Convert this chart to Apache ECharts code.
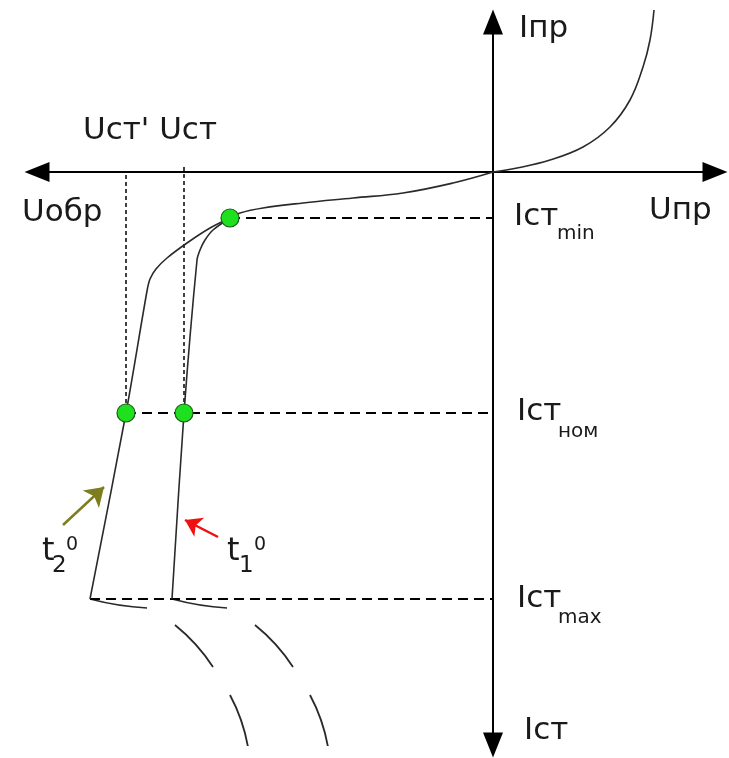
<!DOCTYPE html>
<html>
<head>
<meta charset="utf-8">
<script src="https://cdn.jsdelivr.net/npm/echarts@6/dist/echarts.min.js"></script>
<style>
html,body{margin:0;padding:0;background:#fff}
#main{width:729px;height:758px}
</style>
</head>
<body>
<div id="main"></div>
<script>
// вольт-амперная характеристика стабилитрона, условные единицы (начало координат = пересечение осей)
var uSt = -30.9;      // Uст
var uSt2 = -36.7;     // Uст'
var iMin = -4.6;      // Iст min
var iNom = -24.1;     // Iст ном
var iMax = -42.7;     // Iст max
var kneeX = -26.3;

var forwardCurve = [[0,0],[2.4,0.4],[5.7,1.2],[9,2.5],[11.7,4.5],[13.7,7.2],[15,10.5],[15.7,13.2],[16.1,16.2]];
var reverseCurve = [[0,0],[-4,-1.1],[-9,-2.1],[-14,-2.6],[-19,-3.1],[-23,-3.6],[-25.3,-4.1],[kneeX,iMin]];
var branchT2 = [[kneeX,iMin],[-28.3,-5.6],[-30.6,-7.1],[-32.6,-8.6],[-33.7,-9.7],[-34.3,-10.7],[-34.6,-11.9],[uSt2,iNom],[-40.3,iMax]];
var branchT1 = [[kneeX,iMin],[-28,-5.8],[-28.8,-6.8],[-29.3,-7.8],[-29.6,-8.8],[uSt,iNom],[-32.1,iMax]];
var tails = [
  [[-40.3,iMax],[-34.6,-43.6]],
  [[-32.1,iMax],[-26.6,-43.6]]
];
var arcs = [
  [[-31.8,-45.3],[-28,-49.5]],
  [[-23.8,-45.3],[-20,-49.5]],
  [[-26.3,-52.3],[-24.5,-57.5]],
  [[-18.3,-52.3],[-16.5,-57.5]]
];
var dots = [[kneeX,iMin],[uSt2,iNom],[uSt,iNom]];
var vGuides = [[[uSt2,-0.3],[uSt2,iNom]],[[uSt,0.5],[uSt,iNom]]];
var hGuides = [[[kneeX,iMin],[0,iMin]],[[uSt2,iNom],[0,iNom]],[[-40.3,iMax],[0,iMax]]];
var arrowT2 = [[-43,-35.3],[-38.9,-31.5]];
var arrowT1 = [[-27.5,-36.5],[-30.8,-34.8]];

// подписи: текст, x, y, размер
var labels = [
  ['Iпр', 519, 29, 31],
  ['Uпр', 649, 211, 31],
  ['Uобр', 22, 213, 31],
  ["Uст' Uст", 83, 131, 31],
  ['Iст', 514, 217, 31], ['min', 557, 234, 20],
  ['Iст', 517, 412, 31], ['ном', 558, 432, 20],
  ['Iст', 517, 599, 31], ['max', 558, 618, 20],
  ['Iст', 524, 731, 31],
  ['t', 42, 552, 32], ['2', 52, 566, 23], ['0', 66, 545, 19],
  ['t', 227, 552, 32], ['1', 239, 566, 23], ['0', 254, 545, 19]
];

var chart = echarts.init(document.getElementById('main'));

var curveStyle = { color: '#2a2a2a', width: 1.6 };
function curve(data, smooth) {
  return {
    type: 'line', data: data, smooth: smooth, symbol: 'none', clip: false,
    lineStyle: curveStyle, silent: true
  };
}
function segs(list) {
  return list.map(function (c) { return { coords: c }; });
}

var option = {
  animation: false,
  backgroundColor: '#fff',
  grid: { left: 37, right: 14, top: 22, bottom: 13 },
  xAxis: {
    type: 'value', min: -45.6, max: 22.2,
    axisLine: { onZero: true, symbol: ['triangle', 'triangle'], symbolSize: [20, 25],
      lineStyle: { color: '#000', width: 2 } },
    axisTick: { show: false }, axisLabel: { show: false }, splitLine: { show: false }
  },
  yAxis: {
    type: 'value', min: -57.3, max: 15,
    axisLine: { onZero: true, symbol: ['triangle', 'triangle'], symbolSize: [20, 25],
      lineStyle: { color: '#000', width: 2 } },
    axisTick: { show: false }, axisLabel: { show: false }, splitLine: { show: false }
  },
  series: [
    curve(forwardCurve, 0.4),
    curve(reverseCurve, 0.4),
    curve(branchT2, 0.3),
    curve(branchT1, 0.3),
    {
      type: 'lines', coordinateSystem: 'cartesian2d', silent: true,
      data: segs(tails),
      lineStyle: { color: '#2a2a2a', width: 1.6, opacity: 1, curveness: -0.05 }
    },
    {
      type: 'lines', coordinateSystem: 'cartesian2d', silent: true,
      data: segs(arcs),
      lineStyle: { color: '#2a2a2a', width: 1.8, opacity: 1, curveness: 0.08 }
    },
    {
      type: 'lines', coordinateSystem: 'cartesian2d', silent: true,
      data: segs(vGuides),
      lineStyle: { color: '#000', width: 1.5, opacity: 1, type: [4, 3] }
    },
    {
      type: 'lines', coordinateSystem: 'cartesian2d', silent: true,
      data: segs(hGuides),
      lineStyle: { color: '#000', width: 1.8, opacity: 1, type: [10, 6] }
    },
    {
      type: 'lines', coordinateSystem: 'cartesian2d', silent: true,
      symbol: ['none', 'arrow'], symbolSize: 18,
      data: [{ coords: arrowT2 }],
      lineStyle: { color: '#7d7d1e', width: 2.5, opacity: 1 }
    },
    {
      type: 'lines', coordinateSystem: 'cartesian2d', silent: true,
      symbol: ['none', 'arrow'], symbolSize: 16,
      data: [{ coords: arrowT1 }],
      lineStyle: { color: '#f01010', width: 2.5, opacity: 1 }
    },
    {
      type: 'scatter', data: dots, symbolSize: 18, silent: true, z: 5,
      itemStyle: { color: '#1fe01f', borderColor: '#1b5e1b', borderWidth: 1.2, opacity: 1 }
    }
  ],
  graphic: labels.map(function (l) {
    return {
      type: 'text', x: l[1], y: l[2], silent: true,
      style: { text: l[0], fontSize: l[3], fontFamily: 'DejaVu Sans', fill: '#1a1a1a', verticalAlign: 'middle' }
    };
  })
};

chart.clear();
chart.setOption(option);
</script>
</body>
</html>
